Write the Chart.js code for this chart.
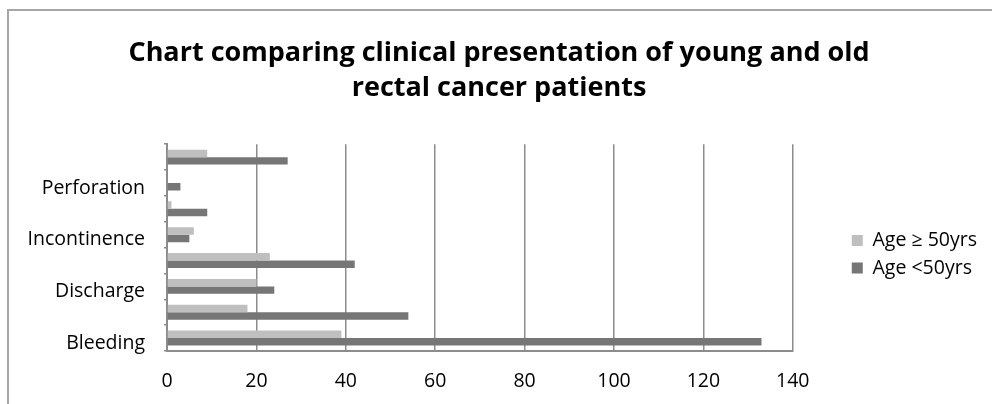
<!DOCTYPE html>
<html>
<head>
<meta charset="utf-8">
<script src="https://cdn.jsdelivr.net/npm/chart.js@4.4.1/dist/chart.umd.min.js"></script>
<style>
  html, body { margin: 0; padding: 0; overflow: hidden; background: #fff; }
  #wrap { position: relative; width: 992px; height: 404px; }
  #frame { position: absolute; left: 7px; top: 9px; width: 1200px; height: 600px;
           border: 2px solid #a6a6a6; pointer-events: none; }
  canvas { position: absolute; left: 0; top: 0; }
</style>
</head>
<body>
<div id="wrap">
  <canvas id="c" width="992" height="404"></canvas>
  <div id="frame"></div>
</div>
<script>
// ---- data ----
const categories = ['Bleeding', 'Tenesmus', 'Discharge', 'Weight loss', 'Incontinence', 'Obstruction', 'Perforation', 'Others'];
const shownLabels = [true, false, true, false, true, false, true, false];
const ageOver50 = [39, 18, 20, 23, 6, 1, 0, 9];
const ageUnder50 = [133, 54, 24, 42, 5, 9, 3, 27];
const seriesNames = ['Age \u2265 50yrs', 'Age <50yrs'];
const xTicks = [0, 20, 40, 60, 80, 100, 120, 140];
const titleLines = ['Chart comparing clinical presentation of young and old', 'rectal cancer patients'];

const FONT = "'Open Sans', sans-serif";
const gridGray = '#8c8c8c';

new Chart(document.getElementById('c'), {
  type: 'bar',
  data: {
    labels: categories,
    datasets: [
      { label: seriesNames[0], data: ageOver50, backgroundColor: '#bfbfbf', borderWidth: 0,
        categoryPercentage: 0.58, barPercentage: 1.0 },
      { label: seriesNames[1], data: ageUnder50, backgroundColor: '#767676', borderWidth: 0,
        categoryPercentage: 0.58, barPercentage: 1.0 }
    ]
  },
  options: {
    indexAxis: 'y',
    responsive: false,
    animation: false,
    devicePixelRatio: 1,
    layout: { padding: { top: 0, left: 11, right: 5, bottom: 0 } },
    plugins: {
      title: {
        display: true,
        text: titleLines,
        color: '#000',
        font: { family: FONT, size: 27, weight: 'bold', lineHeight: 1.3 },
        padding: { top: 36, bottom: 38 }
      },
      legend: {
        display: true,
        position: 'right',
        fullSize: false,
        align: 'center',
        title: { display: true, text: ' ', padding: 0, font: { family: FONT, size: 11.25, lineHeight: 1.2 } },
        labels: {
          boxWidth: 11, boxHeight: 11, padding: 8,
          color: '#000',
          font: { family: FONT, size: 19.5 }
        }
      },
      tooltip: { enabled: false }
    },
    scales: {
      x: {
        type: 'linear',
        position: 'bottom',
        min: 0, max: 140,
        afterBuildTicks: s => { s.ticks = xTicks.map(v => ({ value: v })); },
        grid: { color: gridGray, lineWidth: 1.5, drawTicks: false },
        border: { display: true, color: gridGray, width: 2 },
        ticks: { color: '#000', font: { family: FONT, size: 19.5 }, padding: 19 },
        afterFit: s => { s.height = 53; }
      },
      y: {
        type: 'category',
        position: 'left',
        reverse: true,
        grid: { display: true, drawOnChartArea: false, drawTicks: true, tickLength: 3,
                color: gridGray, lineWidth: 1.5, offset: true },
        border: { display: true, color: gridGray, width: 2 },
        ticks: {
          color: '#000', font: { family: FONT, size: 19.5 }, padding: 19, autoSkip: false,
          labelOffset: 5,
          callback: function (v, i) { return shownLabels[i] ? categories[i] : ''; }
        },
        afterFit: s => { s.width = 156; }
      },
      gap: {
        type: 'linear',
        axis: 'y',
        position: 'right',
        display: true,
        grid: { display: false, drawOnChartArea: false },
        border: { display: false },
        ticks: { display: false },
        afterFit: s => { s.width = 51; }
      }
    }
  }
});
</script>
</body>
</html>
